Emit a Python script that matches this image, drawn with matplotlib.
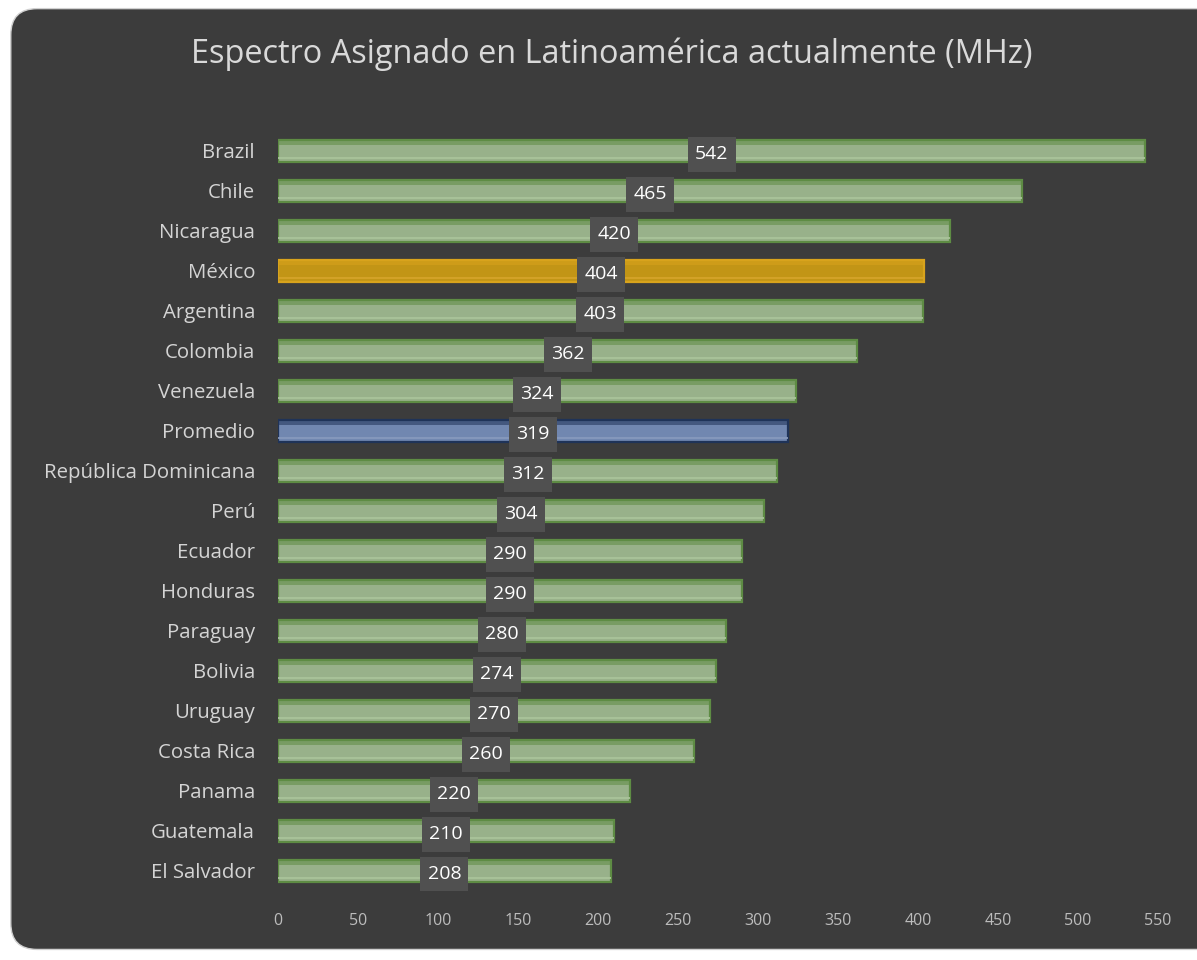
import matplotlib.pyplot as plt
from matplotlib.patches import FancyBboxPatch, Rectangle

plt.rcParams['font.family'] = ['Open Sans', 'DejaVu Sans']

countries = ['Brazil', 'Chile', 'Nicaragua', 'México', 'Argentina', 'Colombia',
             'Venezuela', 'Promedio', 'República Dominicana', 'Perú', 'Ecuador',
             'Honduras', 'Paraguay', 'Bolivia', 'Uruguay', 'Costa Rica', 'Panama',
             'Guatemala', 'El Salvador']
mhz = [542, 465, 420, 404, 403, 362, 324, 319, 312, 304, 290, 290, 280, 274,
       270, 260, 220, 210, 208]
x_ticks = [0, 50, 100, 150, 200, 250, 300, 350, 400, 450, 500, 550]

bg = '#3c3c3c'
fig = plt.figure(figsize=(11.97, 9.6), dpi=100)
fig.patch.set_facecolor('white')

# rounded dark panel behind everything
panel = FancyBboxPatch((0.009, 0.011), 1.02, 0.98, transform=fig.transFigure,
                       boxstyle='round,pad=0,rounding_size=0.022',
                       facecolor=bg, edgecolor='#d0d0d0', linewidth=1.0,
                       mutation_aspect=1197 / 960, zorder=-10)
fig.patches.append(panel)

ax = fig.add_axes([0.2322, 0.0719, 0.7352, 0.7917])
ax.set_facecolor('none')
ax.set_zorder(1)

ypos = list(range(len(countries)))
for y, name, v in zip(ypos, countries, mhz):
    if name == 'México':
        face, edge, hi = '#c29516', '#d8a31c', '#d6a42a'
    elif name == 'Promedio':
        face, edge, hi = '#7187b0', '#1f3358', '#8799bd'
    else:
        face, edge, hi = '#98b18a', '#5e8c44', '#a9c39a'
    ax.barh(y, v, height=0.55, color=face, edgecolor=edge, linewidth=1.6, zorder=2)
    # thin darker band along the top of each bar
    ax.barh(y - 0.2, v, height=0.08, color=edge, alpha=0.55, linewidth=0, zorder=3)
    ax.barh(y + 0.18, v, height=0.05, color=hi, alpha=0.9, linewidth=0, zorder=3)
    # value label in a dark box at the middle of the bar
    ax.add_patch(Rectangle((v / 2 - 15, y - 0.35), 30, 0.875,
                           facecolor='#505050', edgecolor='none', zorder=4))
    ax.text(v / 2, y + 0.08, str(v), ha='center', va='center', color='white',
            fontsize=14, zorder=5)

ax.set_ylim(len(countries) - 0.5, -0.5)
ax.set_xlim(0, 550)
ax.set_yticks(ypos)
ax.set_yticklabels(countries, fontsize=14.7, color='#d4d4d4')
ax.set_xticks(x_ticks)
ax.set_xticklabels([str(t) for t in x_ticks], fontsize=11.5, color='#bcbcbc')
ax.tick_params(axis='y', length=0, pad=16.5)
ax.tick_params(axis='x', length=0, pad=16)
for s in ax.spines.values():
    s.set_visible(False)

fig.text(0.511, 0.944, 'Espectro Asignado en Latinoamérica actualmente (MHz)',
         ha='center', va='center', fontsize=23.4, color='#d9d9d9')

fig.savefig('out.png', dpi=100, facecolor=fig.get_facecolor())
